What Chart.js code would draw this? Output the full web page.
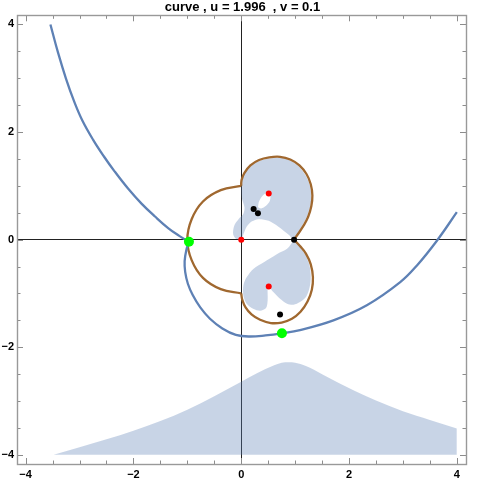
<!DOCTYPE html>
<html lang="en">
<head>
  <meta charset="UTF-8">
  <title>curve , u = 1.996 , v = 0.1</title>
  <script src="https://cdn.jsdelivr.net/npm/chart.js"></script>
  <style>
    html, body {
      margin: 0;
      padding: 0;
      background: #fff;
    }
    canvas {
      display: block;
    }
  </style>
</head>
<body>

  <canvas id="grafiku" width="485" height="485"></canvas>

  <script>
    // kurba blu, pjesa e siperme (nga lart majtas deri te pika e gjelber)
    const curveAX = [-3.54, -3.40, -3.25, -3.10, -2.95, -2.75, -2.55, -2.35, -2.10, -1.85, -1.60, -1.35, -1.15, -0.97];
    const curveAY = [4.00, 3.48, 2.99, 2.57, 2.22, 1.86, 1.55, 1.27, 0.95, 0.67, 0.43, 0.21, 0.07, -0.04];
    // kurba blu, pjesa tjeter (poshte e djathtas)
    const curveBX = [-0.97, -1.02, -1.05, -1.04, -0.99, -0.90, -0.76, -0.58, -0.35, -0.10, 0.15, 0.45, 0.755, 1.09, 1.71, 2.33, 2.95, 3.26, 3.63, 4.00];
    const curveBY = [-0.04, -0.20, -0.40, -0.60, -0.82, -1.03, -1.26, -1.47, -1.65, -1.77, -1.80, -1.78, -1.74, -1.68, -1.50, -1.22, -0.79, -0.48, -0.02, 0.51];

    // kurba kafe
    const leftArcX = [0, -0.38, -0.71, -0.92, -1.00, -0.92, -0.71, -0.38, 0];
    const leftArcY = [1.00, 0.92, 0.71, 0.38, 0, -0.38, -0.71, -0.92, -1.00];
    const lowerLobeX = [0, 0.02, 0.08, 0.19, 0.35, 0.55, 0.75, 0.94, 1.10, 1.23, 1.31, 1.33, 1.29, 1.20, 1.09, 0.98];
    const lowerLobeY = [-1.00, -1.12, -1.26, -1.39, -1.49, -1.55, -1.54, -1.47, -1.34, -1.15, -0.93, -0.70, -0.46, -0.26, -0.12, 0];
    const upperLobeX = [0.98, 1.05, 1.15, 1.24, 1.30, 1.32, 1.29, 1.21, 1.08, 0.91, 0.72, 0.52, 0.33, 0.17, 0.06, 0.01, 0, 0];
    const upperLobeY = [0, 0.10, 0.25, 0.42, 0.62, 0.82, 1.03, 1.22, 1.38, 1.49, 1.54, 1.53, 1.48, 1.38, 1.24, 1.12, 1.06, 1.00];

    // zonat e hijezuara
    const blobTopX = [0, 0.05, 0.17, 0.33, 0.52, 0.72, 0.91, 1.07, 1.19, 1.27, 1.30, 1.28, 1.22, 1.13, 1.04, 0.98,
                      0.88, 0.69, 0.51, 0.32, 0.20, 0.10, 0.04, 0, -0.09, -0.15, -0.13, -0.05, 0.04, 0.06, 0.01, 0];
    const blobTopY = [1.00, 1.22, 1.36, 1.46, 1.51, 1.52, 1.47, 1.36, 1.20, 1.02, 0.82, 0.62, 0.43, 0.26, 0.11, 0,
                      0.09, 0.24, 0.35, 0.38, 0.34, 0.24, 0.10, 0, 0.01, 0.10, 0.26, 0.38, 0.48, 0.60, 0.78, 1.00];
    const holeX = [0.31, 0.33, 0.40, 0.49, 0.54, 0.53, 0.46, 0.37, 0.31];
    const holeY = [0.60, 0.71, 0.82, 0.88, 0.83, 0.72, 0.63, 0.58, 0.60];
    const blobBottomX = [0.98, 1.09, 1.20, 1.27, 1.29, 1.27, 1.21, 1.09, 0.97, 0.85, 0.72, 0.60, 0.51,
                         0.49, 0.49, 0.46, 0.35, 0.23, 0.10, 0.04, 0.04, 0.10, 0.23, 0.42, 0.66, 0.85, 0.98];
    const blobBottomY = [0, -0.13, -0.30, -0.50, -0.70, -0.88, -1.05, -1.16, -1.21, -1.19, -1.10, -0.98, -0.87,
                         -0.91, -1.13, -1.27, -1.32, -1.29, -1.19, -1.04, -0.85, -0.70, -0.54, -0.42, -0.27, -0.17, 0];

    // kodra poshte
    const hillX = [-3.48, -3.0, -2.5, -2.0, -1.5, -1.0, -0.5, 0, 0.3, 0.6, 0.75, 0.88, 1.0, 1.2, 1.5, 1.8, 2.1, 2.5, 3.0, 3.5, 4.0];
    const hillY = [-4.00, -3.86, -3.71, -3.55, -3.37, -3.16, -2.91, -2.64, -2.48, -2.34, -2.29, -2.28, -2.29, -2.35, -2.50, -2.66, -2.81, -2.99, -3.19, -3.35, -3.51];

    // pikat
    const redX = [0, 0.51, 0.51];
    const redY = [0, 0.86, -0.87];
    const blackX = [0.23, 0.31, 0.98, 0.72];
    const blackY = [0.57, 0.49, 0, -1.39];
    const greenX = [-0.97, 0.755];
    const greenY = [-0.04, -1.74];

    const majorTicks = [-4, -2, 0, 2, 4];
    const titulli = 'curve , u = 1.996  , v = 0.1';

    const pts = (xs, ys) => xs.map((x, i) => ({x: x, y: ys[i]}));

    const blu = '#5E81B5';
    const kafe = '#A0682F';
    const mbushje = 'rgba(94, 129, 181, 0.34)';
    const fonti = "'Liberation Sans', Arial, sans-serif";

    function vija(xs, ys, color, order) {
      return {
        data: pts(xs, ys),
        showLine: true,
        borderColor: color,
        borderWidth: 2.3,
        tension: 0.4,
        pointRadius: 0,
        fill: false,
        order: order
      };
    }

    function forma(xs, ys, color, order) {
      return {
        data: pts(xs, ys),
        showLine: true,
        borderColor: 'rgba(0,0,0,0)',
        borderWidth: 0,
        backgroundColor: color,
        tension: 0.3,
        pointRadius: 0,
        fill: 'shape',
        order: order
      };
    }

    function pikat(xs, ys, color, r) {
      return {
        data: pts(xs, ys),
        showLine: false,
        pointRadius: r,
        pointBackgroundColor: color,
        pointBorderWidth: 0,
        fill: false,
        order: 0
      };
    }

    // korniza dhe shenjat e brendshme
    const korniza = {
      id: 'korniza',
      afterDraw(chart) {
        const ctx = chart.ctx;
        const a = chart.chartArea;
        const xs = chart.scales.x;
        const ys = chart.scales.y;
        ctx.save();
        ctx.strokeStyle = '#8c8c8c';
        ctx.lineWidth = 1;
        ctx.beginPath();
        xs.ticks.forEach(t => {
          const p = Math.round(xs.getPixelForValue(t.value)) + 0.5;
          const len = majorTicks.includes(t.value) ? 6 : 3.5;
          ctx.moveTo(p, a.bottom); ctx.lineTo(p, a.bottom - len);
          ctx.moveTo(p, a.top); ctx.lineTo(p, a.top + len);
        });
        ys.ticks.forEach(t => {
          const p = Math.round(ys.getPixelForValue(t.value)) + 0.5;
          const len = majorTicks.includes(t.value) ? 6 : 3.5;
          ctx.moveTo(a.left, p); ctx.lineTo(a.left + len, p);
          ctx.moveTo(a.right, p); ctx.lineTo(a.right - len, p);
        });
        ctx.stroke();
        ctx.lineWidth = 1.4;
        ctx.strokeStyle = '#999';
        ctx.strokeRect(Math.round(a.left) + 0.5, Math.round(a.top) + 0.5,
                       Math.round(a.right - a.left), Math.round(a.bottom - a.top));
        ctx.restore();
      }
    };

    function etiketa(value) {
      if (!majorTicks.includes(value)) return '';
      return value < 0 ? '\u2212' + Math.abs(value) : String(value);
    }

    const ctx = document.getElementById('grafiku').getContext('2d');

    new Chart(ctx, {
      type: 'line',
      data: {
        datasets: [
          pikat(greenX, greenY, '#00FF00', 5),
          pikat(redX, redY, '#FF0000', 3),
          pikat(blackX, blackY, '#000000', 3),
          vija(curveAX, curveAY, blu, 1),
          vija(curveBX, curveBY, blu, 1),
          vija(leftArcX, leftArcY, kafe, 2),
          vija(lowerLobeX, lowerLobeY, kafe, 2),
          vija(upperLobeX, upperLobeY, kafe, 2),
          forma(holeX, holeY, '#ffffff', 3),
          forma(blobTopX, blobTopY, mbushje, 4),
          forma(blobBottomX, blobBottomY, mbushje, 4),
          {
            data: pts(hillX, hillY),
            showLine: true,
            borderColor: 'rgba(0,0,0,0)',
            borderWidth: 0,
            backgroundColor: mbushje,
            cubicInterpolationMode: 'monotone',
            pointRadius: 0,
            fill: {value: -4},
            order: 5
          }
        ]
      },
      options: {
        responsive: false,
        animation: false,
        layout: { padding: 0 },
        plugins: {
          legend: { display: false },
          tooltip: { enabled: false },
          title: {
            display: true,
            text: titulli,
            color: '#000',
            font: { family: fonti, size: 13, weight: 'bold', lineHeight: 1.1 },
            padding: { top: 0, bottom: 1 }
          }
        },
        scales: {
          x: {
            type: 'linear',
            min: -4.16,
            max: 4.17,
            border: { display: false },
            grid: {
              drawTicks: false,
              lineWidth: 1,
              color: c => c.tick && c.tick.value === 0 ? '#222' : 'rgba(0,0,0,0)'
            },
            ticks: {
              stepSize: 0.5,
              includeBounds: false,
              autoSkip: false,
              maxRotation: 0,
              padding: 4,
              color: '#000',
              font: { family: fonti, size: 11, weight: 'bold' },
              callback: etiketa
            },
            afterFit(s) { s.height = 21; }
          },
          y: {
            type: 'linear',
            min: -4.17,
            max: 4.17,
            border: { display: false },
            grid: {
              drawTicks: false,
              lineWidth: 1,
              color: c => c.tick && c.tick.value === 0 ? '#222' : 'rgba(0,0,0,0)'
            },
            ticks: {
              stepSize: 0.5,
              includeBounds: false,
              autoSkip: false,
              padding: 3,
              color: '#000',
              font: { family: fonti, size: 11, weight: 'bold' },
              callback: etiketa
            },
            afterFit(s) { s.width = 17; }
          },
          y2: {
            type: 'linear',
            position: 'right',
            display: true,
            border: { display: false },
            grid: { display: false, drawTicks: false },
            ticks: { display: false },
            afterFit(s) { s.width = 19; }
          }
        }
      },
      plugins: [korniza]
    });
  </script>

</body>
</html>
